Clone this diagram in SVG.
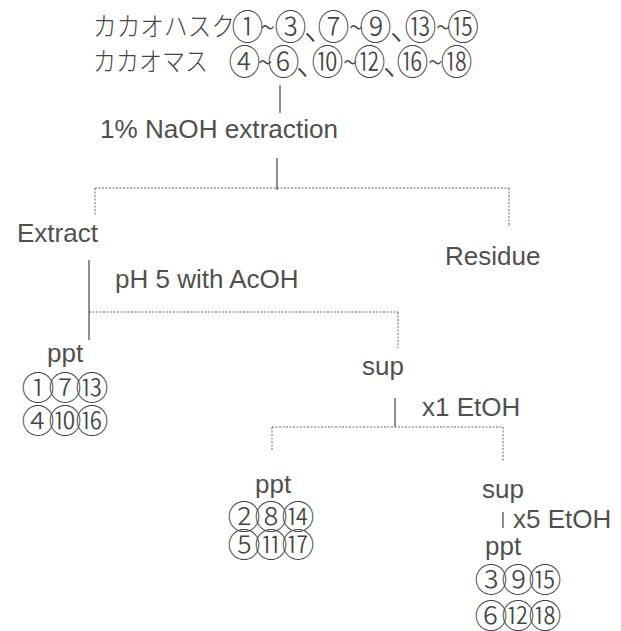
<svg xmlns="http://www.w3.org/2000/svg" width="621" height="631" viewBox="0 0 621 631">
  <style>
    .lbl { font-family: "Liberation Sans", Arial, sans-serif; font-size: 26px; fill: #505050; }
    .jp { font-family: "Noto Sans CJK JP", "Noto Sans CJK SC", sans-serif; font-size: 26px; fill: #444; font-weight: 300; }
    .cj { font-family: "Noto Sans CJK JP", "Noto Sans CJK SC", sans-serif; font-size: 32px; fill: #444; font-weight: 300; }
    .cj .t { font-size: 27px; }
    .num { font-family: "Noto Sans CJK JP", "Noto Sans CJK SC", sans-serif; font-size: 33px; fill: #444; font-weight: 300; }
    .solid { stroke: #444; stroke-width: 1.2; fill: none; }
    .dot { stroke: #666; stroke-width: 1; stroke-dasharray: 2 1.5; fill: none; }
  </style>
  <rect width="621" height="631" fill="#fff"/>

  <!-- connectors -->
  <g id="connectors">
    <line class="solid" x1="280" y1="85" x2="280" y2="113"/>
    <line class="solid" x1="277" y1="158" x2="277" y2="190"/>
    <line class="dot" x1="95" y1="188" x2="509" y2="188"/>
    <line class="dot" x1="95" y1="188" x2="95" y2="215"/>
    <line class="dot" x1="509" y1="188" x2="509" y2="227"/>
    <line class="solid" x1="89" y1="260" x2="89" y2="340"/>
    <line class="dot" x1="89" y1="312" x2="398" y2="312"/>
    <line class="dot" x1="398" y1="312" x2="398" y2="348"/>
    <line class="solid" x1="395" y1="398" x2="395" y2="427"/>
    <line class="dot" x1="272" y1="427" x2="503" y2="427"/>
    <line class="dot" x1="272" y1="427" x2="272" y2="450"/>
    <line class="dot" x1="503" y1="427" x2="503" y2="462"/>
    <line class="solid" x1="503" y1="512" x2="503" y2="528"/>
  </g>

  <!-- starting materials -->
  <g id="source">
    <text class="jp" x="93" y="36" textLength="142" lengthAdjust="spacingAndGlyphs">カカオハスク</text>
    <text class="cj" transform="translate(0,40) scale(1,1.1)" y="0"><tspan x="231.5">①</tspan><tspan class="t" x="260.5" y="-2">~</tspan><tspan x="274.5" y="0">③</tspan><tspan x="304">、</tspan><tspan x="317.5">⑦</tspan><tspan class="t" x="349" y="-2">~</tspan><tspan x="359.5" y="0">⑨</tspan><tspan x="390">、</tspan><tspan x="404.5">⑬</tspan><tspan class="t" x="436" y="-2">~</tspan><tspan x="447" y="0">⑮</tspan></text>
    <text class="jp" x="93" y="71" textLength="115" lengthAdjust="spacingAndGlyphs">カカオマス</text>
    <text class="cj" transform="translate(0,75) scale(1,1.1)" y="0"><tspan x="228.5">④</tspan><tspan class="t" x="258" y="-2">~</tspan><tspan x="267.5" y="0">⑥</tspan><tspan x="296">、</tspan><tspan x="311.5">⑩</tspan><tspan class="t" x="343" y="-2">~</tspan><tspan x="353.5" y="0">⑫</tspan><tspan x="383">、</tspan><tspan x="396.5">⑯</tspan><tspan class="t" x="428" y="-2">~</tspan><tspan x="440.5" y="0">⑱</tspan></text>
  </g>

  <g id="step-naoh">
    <text class="lbl" x="100" y="138" textLength="238" lengthAdjust="spacingAndGlyphs">1% NaOH extraction</text>
  </g>

  <g id="extract">
    <text class="lbl" x="17" y="242">Extract</text>
  </g>

  <g id="residue">
    <text class="lbl" x="445" y="265">Residue</text>
  </g>

  <g id="step-acoh">
    <text class="lbl" x="115" y="288">pH 5 with AcOH</text>
  </g>

  <g id="ppt-1">
    <text class="lbl" x="47" y="362">ppt</text>
    <text class="num" x="21.5 48.5 75.5" y="400">①⑦⑬</text>
    <text class="num" x="21.5 48.5 75.5" y="433">④⑩⑯</text>
  </g>

  <g id="sup-1">
    <text class="lbl" x="362" y="375">sup</text>
  </g>

  <g id="step-etoh1">
    <text class="lbl" x="422" y="416">x1 EtOH</text>
  </g>

  <g id="ppt-2">
    <text class="lbl" x="255" y="493">ppt</text>
    <text class="num" x="227.5 254.5 281.5" y="529">②⑧⑭</text>
    <text class="num" x="227.5 254.5 281.5" y="557">⑤⑪⑰</text>
  </g>

  <g id="sup-2">
    <text class="lbl" x="482" y="498">sup</text>
  </g>

  <g id="step-etoh5">
    <text class="lbl" x="513" y="528">x5 EtOH</text>
  </g>

  <g id="ppt-3">
    <text class="lbl" x="485" y="555">ppt</text>
    <text class="num" x="474.5 501.5 528.5" y="592">③⑨⑮</text>
    <text class="num" x="474.5 501.5 528.5" y="628">⑥⑫⑱</text>
  </g>
</svg>
